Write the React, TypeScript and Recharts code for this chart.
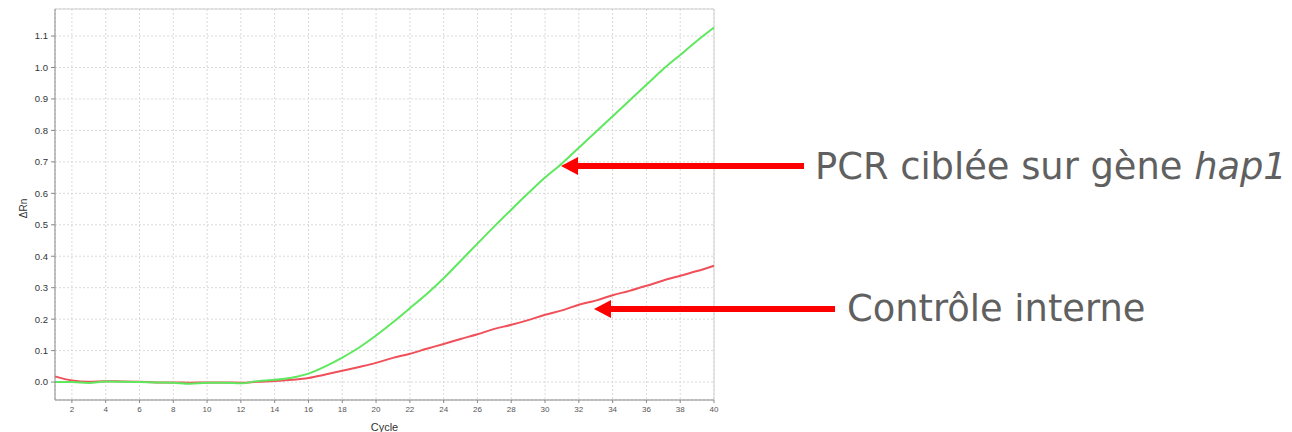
import { LineChart, Line, XAxis, YAxis, CartesianGrid, ReferenceLine } from "recharts";

const cycles = [
  1, 2, 3, 4, 5, 6, 7, 8, 9, 10, 11, 12, 13, 14, 15, 16, 17, 18, 19, 20,
  21, 22, 23, 24, 25, 26, 27, 28, 29, 30, 31, 32, 33, 34, 35, 36, 37, 38, 39, 40,
];

// PCR ciblée sur gène hap1 (green)
const hap1 = [
  0.0, 0.0, -0.003, 0.002, 0.001, 0.0, -0.001, -0.002, -0.005, -0.002,
  -0.002, -0.004, 0.003, 0.007, 0.014, 0.027, 0.05, 0.078, 0.11, 0.148,
  0.19, 0.235, 0.28, 0.33, 0.385, 0.44, 0.495, 0.548, 0.6, 0.65,
  0.695, 0.745, 0.795, 0.845, 0.895, 0.945, 0.995, 1.04, 1.085, 1.127,
];

// Contrôle interne (red)
const controle = [
  0.018, 0.005, 0.001, 0.003, 0.002, 0.001, -0.001, -0.001, -0.002, -0.001,
  -0.001, -0.002, 0.001, 0.003, 0.007, 0.013, 0.024, 0.036, 0.048, 0.061,
  0.077, 0.09, 0.106, 0.121, 0.137, 0.152, 0.169, 0.182, 0.197, 0.214,
  0.228, 0.246, 0.259, 0.276, 0.29, 0.306, 0.323, 0.338, 0.353, 0.37,
];

const xTicks = [2, 4, 6, 8, 10, 12, 14, 16, 18, 20, 22, 24, 26, 28, 30, 32, 34, 36, 38, 40];
const yTicks = [0, 0.1, 0.2, 0.3, 0.4, 0.5, 0.6, 0.7, 0.8, 0.9, 1.0, 1.1];
const yDomain: [number, number] = [-0.057, 1.186];

const data = cycles.map((c, i) => ({ cycle: c, hap1: hap1[i], controle: controle[i] }));

const YTitle = (props: any) => {
  const vb = props.viewBox;
  const x = vb.x + 8;
  const y = vb.y + vb.height / 2 + 4;
  return (
    <text
      x={x}
      y={y}
      transform={`rotate(-90 ${x} ${y})`}
      textAnchor="middle"
      dominantBaseline="central"
      fontSize={10}
      fill="#333"
      fontFamily="Liberation Sans, Arial, sans-serif"
    >
      ΔRn
    </text>
  );
};

const Arrow = ({ x1, x2, y }: { x1: number; x2: number; y: number }) => (
  <g>
    <line x1={x1} y1={y} x2={x2 + 14} y2={y} stroke="#ff0000" strokeWidth={6} />
    <polygon points={`${x2},${y} ${x2 + 17},${y - 9} ${x2 + 17},${y + 9}`} fill="#ff0000" />
  </g>
);

const App = () => {
  return (
    <div style={{ position: "absolute", left: 0, top: 0, width: 1292, height: 432, background: "#fff" }}>
      <LineChart
        width={1292}
        height={432}
        data={data}
        margin={{ top: 9, right: 578, left: 15, bottom: 0 }}
      >
        <CartesianGrid stroke="#d9d9d9" strokeDasharray="2 2" />
        <XAxis
          type="number"
          dataKey="cycle"
          domain={[1, 40]}
          ticks={xTicks}
          height={32}
          tickSize={3}
          tickMargin={3}
          stroke="#888"
          tick={{ fontSize: 8, fill: "#555", fontFamily: "Liberation Sans, Arial, sans-serif" }}
          label={{
            value: "Cycle",
            position: "insideBottom",
            offset: 1,
            fontSize: 11,
            fill: "#333",
            fontFamily: "Liberation Sans, Arial, sans-serif",
          }}
        />
        <YAxis
          type="number"
          domain={yDomain}
          ticks={yTicks}
          allowDataOverflow
          width={40}
          tickSize={4}
          tickMargin={3}
          stroke="#888"
          tickFormatter={(v: number) => v.toFixed(1)}
          tick={{ fontSize: 9.5, fill: "#333", fontFamily: "Liberation Sans, Arial, sans-serif" }}
          label={<YTitle />}
        />
        <ReferenceLine y={yDomain[1]} stroke="#cfcfcf" />
        <ReferenceLine x={40} stroke="#cfcfcf" />
        <Line
          type="monotone"
          dataKey="controle"
          stroke="#f0505a"
          strokeWidth={2}
          dot={false}
          isAnimationActive={false}
        />
        <Line
          type="monotone"
          dataKey="hap1"
          stroke="#5ee85e"
          strokeWidth={2}
          dot={false}
          isAnimationActive={false}
        />
      </LineChart>
      <svg
        width={1292}
        height={432}
        style={{ position: "absolute", left: 0, top: 0, pointerEvents: "none" }}
      >
        <Arrow x1={804} x2={561} y={166} />
        <Arrow x1={835} x2={594} y={309} />
        <text x={815} y={179} fontSize={36.8} fill="#606060" fontFamily="DejaVu Sans, Verdana, sans-serif">
          PCR ciblée sur gène <tspan fontStyle="italic">hap1</tspan>
        </text>
        <text x={847} y={321} fontSize={36.8} fill="#606060" fontFamily="DejaVu Sans, Verdana, sans-serif">
          Contrôle interne
        </text>
      </svg>
    </div>
  );
};

export default App;
